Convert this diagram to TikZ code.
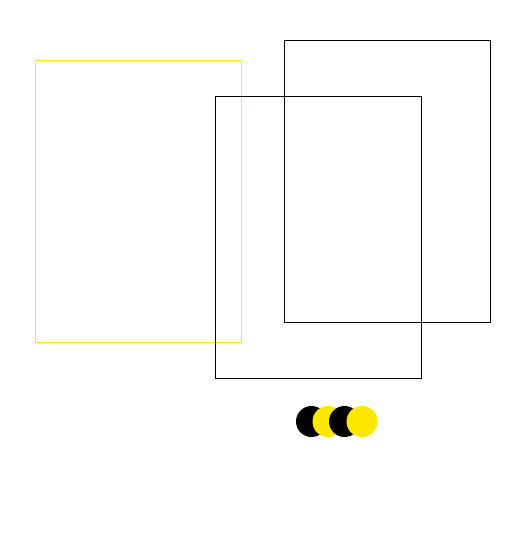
\documentclass[tikz,border=0pt]{standalone}
\definecolor{myyellow}{HTML}{FFE800}
\begin{document}
\begin{tikzpicture}[x=1pt,y=-1pt,
  box/.style={draw=black,line width=1pt},
  ybox/.style={draw=myyellow,line width=1pt},
  bdot/.style={circle,fill=black,minimum size=31pt,inner sep=0pt},
  ydot/.style={circle,fill=myyellow,minimum size=31pt,inner sep=0pt}]
\useasboundingbox[fill=white] (0,0) rectangle (505,546);
\draw[ybox] (35.5,60.5) rectangle (241.5,342.5);
\draw[box] (215.5,96.5) rectangle (421.5,378.5);
\draw[box] (284.5,40.5) rectangle (490.5,322.5);
\node[bdot] (c1) at (311.5,421.5) {};
\node[ydot] (c2) at (328,421.5) {};
\node[bdot] (c3) at (344.5,421.5) {};
\node[ydot] (c4) at (362,421.5) {};
\end{tikzpicture}
\end{document}
